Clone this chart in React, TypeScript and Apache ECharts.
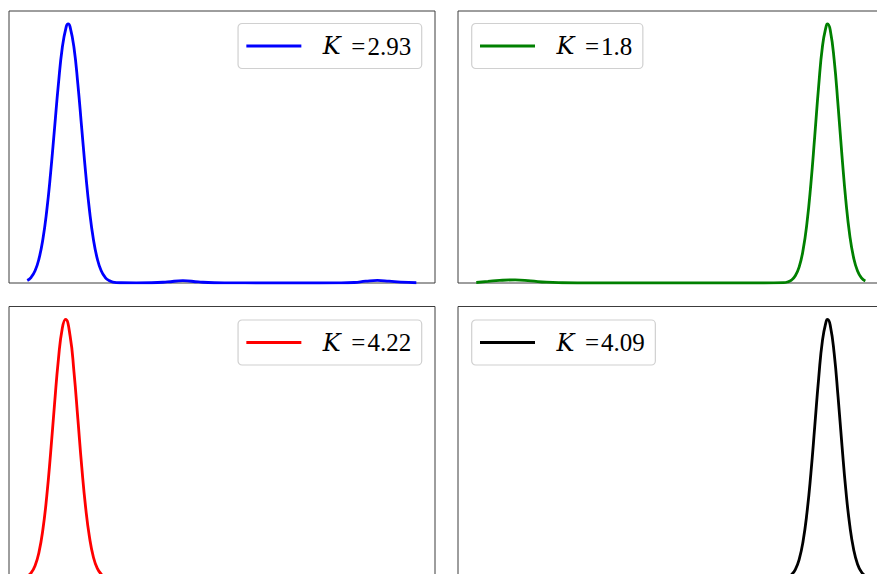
import React, { useEffect, useRef } from "react";
import * as echarts from "echarts";

// Legend labels (value of K for each panel)
const kLabels = ["2.93", "1.8", "4.22", "4.09"];
const lineColors = ["#0000ff", "#008000", "#ff0000", "#000000"];

// Density curves, one per panel (x position, density)
const blueX = [0, 1, 2, 3, 4, 5, 6, 7, 8, 9, 10, 10.5, 11, 12, 13, 14, 15, 16, 17, 18, 19, 20, 21, 22, 24, 28, 32, 36, 40, 44, 48, 52, 60, 70, 80, 84, 87, 90, 93, 96, 100];
const blueY = [0.0095, 0.022, 0.047, 0.093, 0.168, 0.279, 0.425, 0.596, 0.768, 0.909, 0.989, 1.0, 0.989, 0.909, 0.768, 0.596, 0.425, 0.279, 0.168, 0.093, 0.047, 0.022, 0.0095, 0.0038, 0.001, 0.0005, 0.001, 0.004, 0.009, 0.004, 0.001, 0.0005, 0, 0, 0.0005, 0.002, 0.007, 0.01, 0.007, 0.003, 0.001];

const greenX = [0, 3, 6, 10, 14, 18, 22, 30, 60, 74, 79, 80, 81, 82, 83, 84, 85, 86, 87, 88, 89, 90, 90.3, 91, 92, 93, 94, 95, 96, 97, 98, 99, 100];
const greenY = [0.002, 0.006, 0.01, 0.012, 0.008, 0.003, 0.001, 0, 0, 0, 0.0013, 0.004, 0.011, 0.028, 0.0625, 0.127, 0.232, 0.382, 0.567, 0.759, 0.916, 0.995, 1.0, 0.975, 0.86, 0.684, 0.491, 0.317, 0.184, 0.097, 0.046, 0.0195, 0.0075];

const redX = [0, 1, 2, 3, 4, 5, 6, 7, 8, 9, 9.85, 11, 12, 13, 14, 15, 16, 17, 18, 19, 20, 21, 22, 30, 60, 100];
const redY = [0.009, 0.022, 0.049, 0.101, 0.188, 0.317, 0.485, 0.672, 0.846, 0.966, 1.0, 0.937, 0.798, 0.616, 0.431, 0.274, 0.158, 0.082, 0.039, 0.017, 0.0065, 0.002, 0.001, 0, 0, 0];

const blackX = [0, 40, 70, 78, 79, 80, 81, 82, 83, 84, 85, 86, 87, 88, 89, 90, 90.3, 91, 92, 93, 94, 95, 96, 97, 98, 99, 100];
const blackY = [0, 0, 0, 0.0006, 0.002, 0.0056, 0.0147, 0.0346, 0.0741, 0.144, 0.254, 0.405, 0.587, 0.772, 0.921, 0.996, 1.0, 0.976, 0.868, 0.7, 0.513, 0.34, 0.205, 0.112, 0.0553, 0.0248, 0.0101];

const curves = [
  [blueX, blueY],
  [greenX, greenY],
  [redX, redY],
  [blackX, blackY],
];

// Panel layout (pixels); the right column and bottom row run past the visible area
const CANVAS_W = 900;
const CANVAS_H = 600;
const VIEW_W = 877;
const VIEW_H = 574;
const PANEL_W = 426;
const PANEL_H = 272;
const panelPos = [
  [9, 11],
  [458, 11],
  [9, 306.5],
  [458, 306.5],
];

const FONT = "'Liberation Serif', 'Times New Roman', serif";
const K_FONT = "'DejaVu Serif', 'Liberation Serif', serif";

export default function App() {
  const ref = useRef<HTMLDivElement>(null);

  useEffect(() => {
    if (!ref.current) return;
    const chart = echarts.init(ref.current, undefined, { renderer: "svg" });

    const names = kLabels.map((k) => `K =${k}`);

    const option: any = {
      animation: false,
      backgroundColor: "#ffffff",
      grid: panelPos.map(([l, t]) => ({
        left: l,
        top: t,
        width: PANEL_W,
        height: PANEL_H,
        show: true,
        borderColor: "#3c3c3c",
        borderWidth: 1,
        backgroundColor: "transparent",
      })),
      xAxis: panelPos.map((_, i) => ({
        type: "value",
        gridIndex: i,
        min: -4.7,
        max: 104.8,
        show: false,
      })),
      yAxis: panelPos.map((_, i) => ({
        type: "value",
        gridIndex: i,
        min: 0,
        max: 1.05,
        show: false,
      })),
      legend: names.map((name, i) => {
        const base: any = {
          data: [name],
          top: i < 2 ? 23.5 : 320,
          orient: "horizontal",
          icon: "rect",
          itemWidth: 55,
          itemHeight: 3,
          selectedMode: false,
          padding: [10, 10.5, 10, 8.3],
          backgroundColor: "#ffffff",
          borderColor: "#d0d0d0",
          borderWidth: 1.2,
          borderRadius: 4,
          formatter: () => `{k|K}{eq|=}{n|${kLabels[i]}}`,
          textStyle: {
            color: "#000",
            fontFamily: FONT,
            fontSize: 25,
            lineHeight: 25,
            rich: {
              k: {
                fontFamily: K_FONT,
                fontStyle: "italic",
                fontSize: 24,
                lineHeight: 25,
                color: "#000",
                width: 27.5,
                padding: [0, 0, 0, 16.5],
              },
              eq: {
                fontFamily: FONT,
                fontSize: 25,
                lineHeight: 25,
                color: "#000",
                padding: [0, 2, 0, 1],
              },
              n: {
                fontFamily: FONT,
                fontSize: 25,
                lineHeight: 25,
                color: "#000",
              },
            },
          },
        };
        if (i % 2 === 0) base.right = CANVAS_W - 421.7;
        else base.left = 471.7;
        return base;
      }),
      series: curves.map(([xs, ys], i) => ({
        type: "line",
        name: names[i],
        xAxisIndex: i,
        yAxisIndex: i,
        data: xs.map((x, j) => [x, ys[j]]),
        showSymbol: false,
        symbol: "none",
        smooth: 0.5,
        lineStyle: { color: lineColors[i], width: 2.8 },
        itemStyle: { color: lineColors[i] },
      })),
    };

    chart.setOption(option);
    return () => chart.dispose();
  }, []);

  return (
    <div
      style={{
        position: "absolute",
        left: 0,
        top: 0,
        width: VIEW_W,
        height: VIEW_H,
        overflow: "hidden",
      }}
    >
      <div ref={ref} style={{ width: CANVAS_W, height: CANVAS_H }} />
    </div>
  );
}
